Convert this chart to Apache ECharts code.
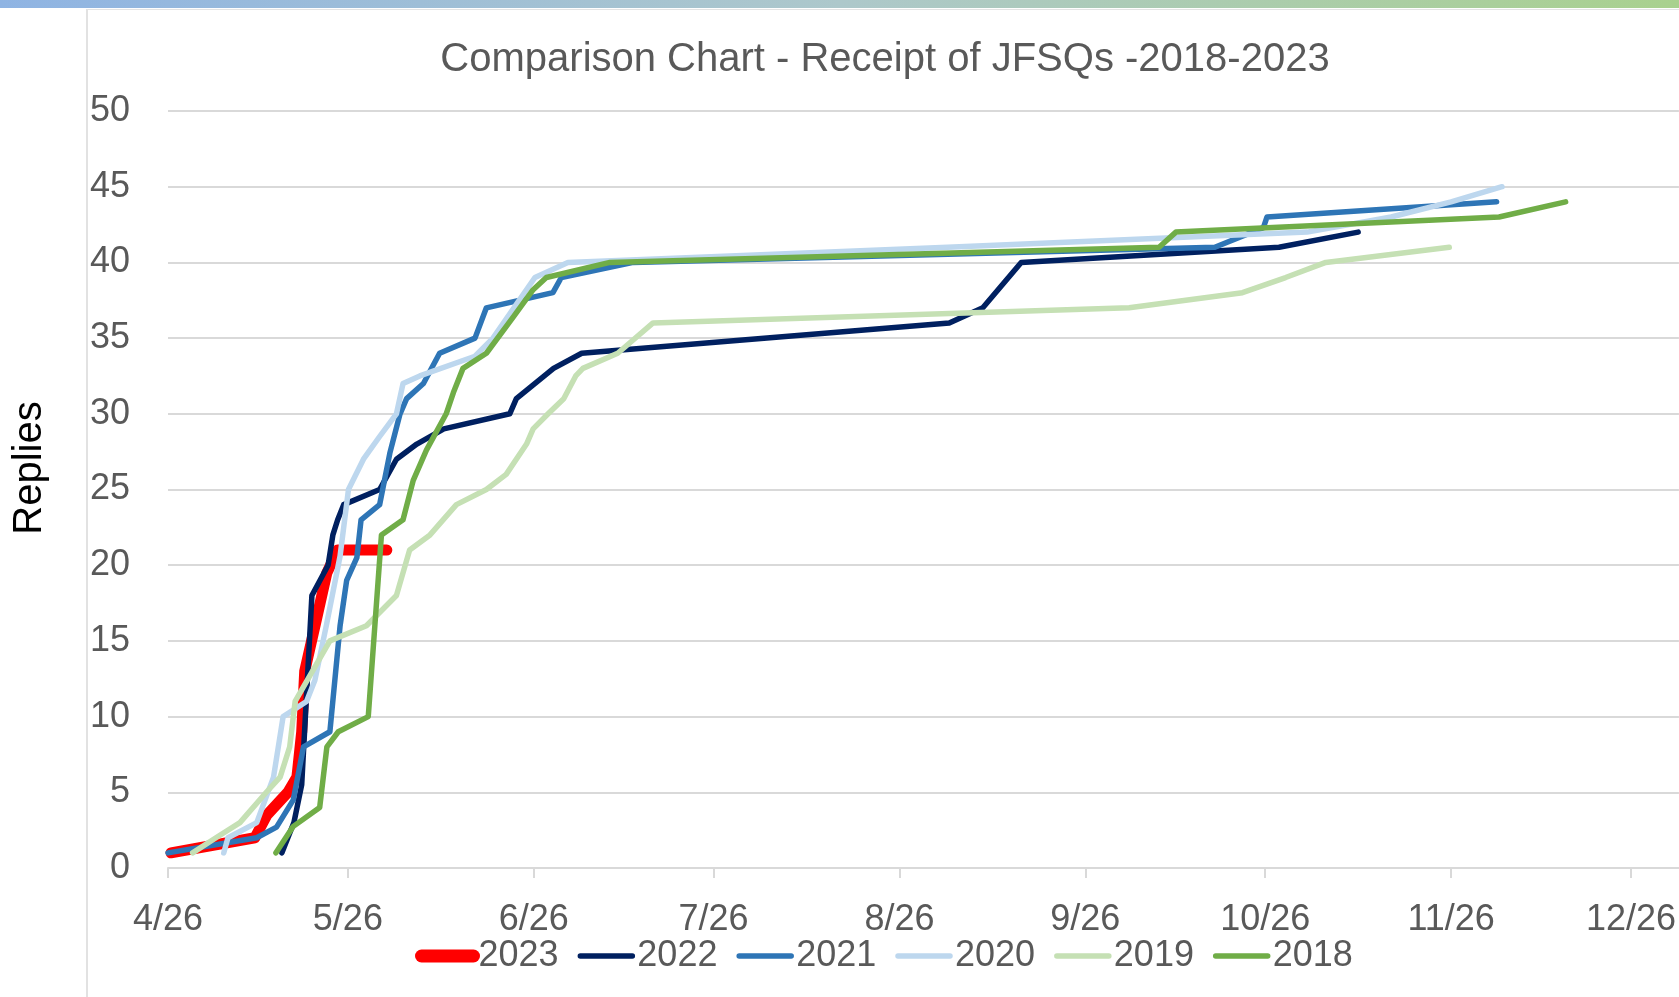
<!DOCTYPE html>
<html>
<head>
<meta charset="utf-8">
<title>Comparison Chart - Receipt of JFSQs -2018-2023</title>
<script src="https://cdn.jsdelivr.net/npm/echarts@6.0.0/dist/echarts.min.js"></script>
<style>
  html, body { margin: 0; padding: 0; background: #fff; }
  #chart { width: 1679px; height: 997px; }
</style>
</head>
<body>
<div id="chart"></div>
<script>
// x = days since 4/26, y = cumulative replies
const seriesNames = ['2023', '2022', '2021', '2020', '2019', '2018'];
const tickLabels = ['4/26', '5/26', '6/26', '7/26', '8/26', '9/26', '10/26', '11/26', '12/26'];
const tickDays = [0, 30, 61, 91, 122, 153, 183, 214, 244];

const days2023 = [0.5, 14.5, 16.5, 20, 21.5, 22.3, 22.8, 24.8, 26.5, 28.3, 36.5];
const replies2023 = [1, 2, 3.5, 5, 6, 9, 13, 16.5, 19.5, 21, 21];

const days2022 = [19, 21, 22.3, 24, 26.7, 27.5, 28.3, 29.3, 35.3, 38.1, 41.5, 46, 57, 58.1, 64.3, 69, 130.3, 135.9, 142.3, 185.3, 198.5];
const replies2022 = [1, 3, 5.5, 18, 20, 22, 23, 24, 25, 27, 28, 29, 30, 31, 33, 34, 36, 37, 40, 41, 42];

const days2021 = [0, 14.8, 18.1, 20.9, 22.6, 27, 28.7, 29.8, 31.5, 32.2, 35.3, 37, 38.7, 39.8, 42.6, 45.3, 51.2, 53.1, 64.2, 65.6, 77.6, 174.6, 182.7, 183.3, 221.6];
const replies2021 = [1, 2, 2.7, 4.5, 8, 9, 16, 19, 20.5, 23, 24, 27.4, 30, 31, 32, 34, 35, 37, 38, 39, 40, 41, 42.3, 43, 44];

const days2020 = [9.3, 10, 14.8, 17.6, 19.2, 23.1, 24.5, 26.4, 28.7, 30.1, 32.6, 35.3, 38.1, 39.2, 42, 51.2, 54.2, 61.2, 66.7, 130, 190, 204, 214, 222.5];
const replies2020 = [1, 2, 3, 6, 10, 11, 12.4, 16, 20.6, 25, 27, 28.5, 30, 32, 32.5, 33.8, 35, 39, 40, 41, 42, 43, 44, 45];

const days2019 = [4.1, 8, 12, 16.4, 18.7, 20.3, 21.2, 27, 33.1, 38.1, 40.3, 43.7, 48.1, 53.1, 56.4, 59.8, 60.9, 63.4, 66, 68, 69.2, 75, 80.9, 160.3, 179.2, 186.4, 193.1, 213.7];
const replies2019 = [1, 2, 3, 5, 6, 8, 11, 15, 16, 18, 21, 22, 24, 25, 26, 28, 29, 30, 31, 32.5, 33, 34, 36, 37, 38, 39, 40, 41];

const days2018 = [18, 20.9, 25.3, 26.5, 28.4, 33.4, 35.6, 39.2, 40.9, 43.1, 46.4, 47.6, 49.2, 53.1, 57.6, 60.9, 63.1, 73.7, 165.3, 168.1, 222, 233.1];
const replies2018 = [1, 2.75, 4, 8, 9, 10, 22, 23, 25.6, 27.6, 30, 31.4, 33, 34, 36.4, 38.2, 39, 40, 41, 42, 43, 44];

const allDays = [days2023, days2022, days2021, days2020, days2019, days2018];
const allReplies = [replies2023, replies2022, replies2021, replies2020, replies2019, replies2018];

const colors = ['#FF0000', '#002060', '#2E75B6', '#BDD7EE', '#C5E0B4', '#70AD47'];
const fontFamily = '"Liberation Sans", Arial, sans-serif';

const chart = echarts.init(document.getElementById('chart'));

const option = {
  animation: false,
  backgroundColor: '#fff',
  title: {
    text: 'Comparison Chart - Receipt of JFSQs -2018-2023',
    left: 880,
    top: 35,
    textAlign: 'center',
    textStyle: { color: '#595959', fontSize: 40, fontWeight: 'normal', fontFamily: fontFamily }
  },
  legend: {
    left: 410,
    top: 933,
    itemWidth: 52,
    itemHeight: 14,
    itemGap: 19,
    itemStyle: { opacity: 0 },
    lineStyle: { cap: 'round' },
    textStyle: { color: '#595959', fontSize: 36, fontFamily: fontFamily },
    data: seriesNames.map((n, i) => ({ name: n, lineStyle: { width: i === 0 ? 13 : 5.5 } }))
  },
  grid: { left: 168, right: 0, top: 111, bottom: 129 },
  xAxis: {
    type: 'value',
    min: 0,
    max: 252,
    axisLine: { lineStyle: { color: '#D9D9D9', width: 2 } },
    axisTick: { length: 10, customValues: tickDays, lineStyle: { color: '#D9D9D9', width: 2 } },
    axisLabel: {
      customValues: tickDays,
      color: '#595959',
      fontSize: 36,
      fontFamily: fontFamily,
      margin: 34,
      formatter: function (v) {
        const idx = tickDays.indexOf(v);
        return idx >= 0 ? tickLabels[idx] : '';
      }
    },
    splitLine: { show: false }
  },
  yAxis: {
    type: 'value',
    min: 0,
    max: 50,
    interval: 5,
    name: 'Replies',
    nameLocation: 'middle',
    nameRotate: 90,
    nameGap: 118,
    nameTextStyle: { color: '#000', fontSize: 40, fontFamily: fontFamily, padding: [0, 0, 0, 43] },
    axisLine: { show: false },
    axisTick: { show: false },
    axisLabel: { color: '#595959', fontSize: 36, fontFamily: fontFamily, margin: 38 },
    splitLine: { lineStyle: { color: '#D9D9D9', width: 2 } }
  },
  graphic: [
    {
      type: 'rect', x: 0, y: 0, silent: true,
      shape: { width: 1679, height: 8 },
      style: {
        fill: new echarts.graphic.LinearGradient(0, 0, 1, 0, [
          { offset: 0, color: '#8FB4E3' },
          { offset: 0.5, color: '#ADC8CB' },
          { offset: 1, color: '#A9D18E' }
        ])
      }
    },
    { type: 'line', silent: true, shape: { x1: 87, y1: 9, x2: 87, y2: 997 }, style: { stroke: '#D9D9D9', lineWidth: 1.5 } },
    { type: 'line', silent: true, shape: { x1: 87, y1: 9.5, x2: 1679, y2: 9.5 }, style: { stroke: '#E4E4E4', lineWidth: 1 } }
  ],
  series: seriesNames.map((name, i) => ({
    name: name,
    type: 'line',
    symbol: 'none',
    showSymbol: false,
    data: allDays[i].map((d, j) => [d, allReplies[i][j]]),
    itemStyle: { color: colors[i] },
    lineStyle: { color: colors[i], width: i === 0 ? 11 : 5.5, cap: 'round', join: 'round' }
  }))
};

chart.setOption(option);
</script>
</body>
</html>
